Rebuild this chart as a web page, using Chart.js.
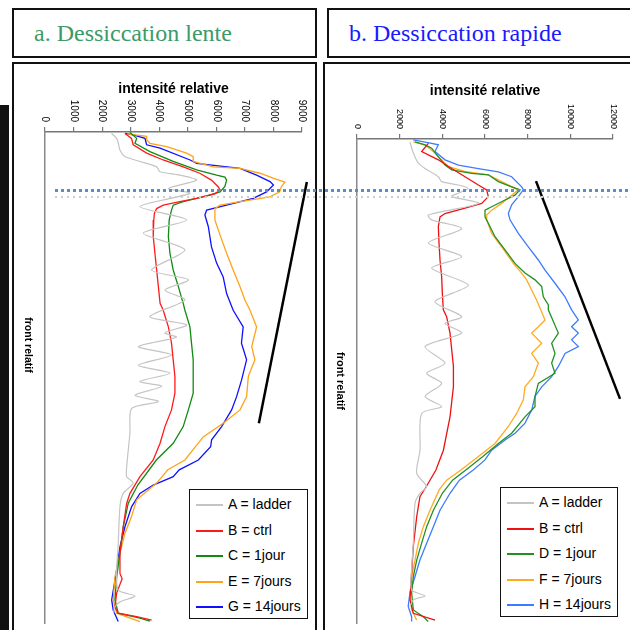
<!DOCTYPE html>
<html>
<head>
<meta charset="utf-8">
<script src="https://cdn.jsdelivr.net/npm/chart.js@4.4.0/dist/chart.umd.min.js"></script>
<style>
  body { margin: 0; width: 630px; height: 630px; overflow: hidden; background: #fff; position: relative; font-family: Arial, 'Liberation Sans', sans-serif; }
  .abs { position: absolute; }
  .box { position: absolute; border: 2px solid #111; box-sizing: border-box; background: #fff; }
  .title { font-family: 'Liberation Serif', 'Times New Roman', serif; font-size: 24px; line-height: 46px; white-space: nowrap; }
  .legend { position: absolute; border: 1.5px solid #111; background: #fff; box-sizing: border-box; z-index: 3; }
  .legend div { position: absolute; left: 0; font-size: 14px; white-space: nowrap; height: 20px; line-height: 20px; }
  .legend span { display: inline-block; width: 27px; height: 2px; vertical-align: middle; margin: 0 5px 0 6px; }
  .dots { position: absolute; z-index: 4; }
</style>
</head>
<body>
<div class="abs" style="left:0;top:105px;width:9px;height:525px;background:#111"></div>

<div class="box title" style="left:12px;top:8px;width:305px;height:50px;padding-left:20px;color:#3c9a66">a. Dessiccation lente</div>
<div class="box title" style="left:327px;top:8px;width:305px;height:50px;padding-left:20px;color:#1a1aff">b. Dessiccation rapide</div>

<div class="box" style="left:12px;top:62px;width:305px;height:590px"></div>
<div class="box" style="left:323px;top:62px;width:310px;height:590px"></div>

<div class="abs" style="left:14px;top:64px;width:300px;height:566px"><canvas id="lente"></canvas></div>
<div class="abs" style="left:325px;top:64px;width:303px;height:566px"><canvas id="rapide"></canvas></div>

<div id="legendLente" class="legend" style="left:189px;top:489px;width:119px;height:130px"></div>
<div id="legendRapide" class="legend" style="left:500px;top:487px;width:118px;height:130px"></div>

<div class="dots" style="left:55px;top:189px;width:575px;height:3px;background-image:linear-gradient(90deg,#5b8bc9 3px,transparent 3px);background-size:6px 3px"></div>
<div class="dots" style="left:55px;top:196px;width:575px;height:2px;background-image:linear-gradient(90deg,#cfcfcf 2px,transparent 2px);background-size:6px 2px"></div>

<script>
// ---- a. Dessiccation lente ----
const ticksLente = [0, 1000, 2000, 3000, 4000, 5000, 6000, 7000, 8000, 9000];
const labelsLente = ['A = ladder', 'B = ctrl', 'C = 1jour', 'E = 7jours', 'G = 14jours'];

const lenteLadderFront = [0.3, 1.3, 2.3, 3.7, 5.0, 6.0, 7.1, 8.1, 8.8, 9.8, 11.5, 12.5, 15.2, 17.9, 20.6, 24.0, 28.1, 30.1, 32.2, 34.2, 37.6, 39.3, 40.9, 41.8, 43.7, 45.4, 47.5, 49.1, 50.8, 51.8, 53.6, 54.9, 56.3, 61.3, 68.2, 70.2, 71.5, 73.6, 76.3, 83.8, 89.2, 93.3, 94.5, 95.7, 96.7, 98.0];
const lenteLadder = [2330, 2510, 2570, 2625, 2800, 3325, 3910, 4025, 4725, 5310, 4320, 5075, 3325, 4960, 3440, 4900, 3735, 5020, 4200, 4900, 3675, 4960, 4200, 4600, 3270, 4430, 3270, 4375, 3325, 4085, 3150, 3970, 3035, 2975, 2860, 2860, 3090, 2740, 2625, 2565, 2510, 2565, 3150, 2625, 2450, 2400];

const lenteCtrlFront = [0.3, 1.3, 2.6, 4.3, 5.7, 7.1, 8.4, 9.8, 11.2, 11.8, 12.6, 13.5, 14.2, 14.9, 15.6, 16.6, 17.9, 21.3, 24.7, 28.1, 31.5, 34.9, 36.3, 39.7, 43.0, 46.4, 49.8, 53.2, 56.6, 60.0, 63.4, 66.8, 70.2, 73.6, 75.6, 80.4, 85.8, 89.9, 91.0, 93.9, 96.7, 98.0, 98.7, 99.4];
const lenteCtrl = [2800, 3030, 3090, 3560, 4140, 4840, 5420, 5830, 6070, 6130, 5950, 5310, 4720, 4140, 3910, 3830, 3810, 3790, 3850, 3910, 3970, 4030, 4140, 4320, 4430, 4490, 4550, 4550, 4430, 4200, 4030, 3790, 3325, 2975, 2860, 2740, 2625, 2625, 2700, 2510, 2450, 2560, 3210, 3735];

const lenteJ1Front = [0.1, 1.3, 2.3, 4.0, 6.0, 7.7, 8.8, 9.2, 9.8, 11.1, 12.2, 13.0, 14.2, 14.9, 15.9, 17.9, 21.3, 24.7, 28.1, 31.5, 34.9, 36.3, 39.7, 43.0, 46.4, 49.8, 53.2, 56.6, 60.0, 63.4, 66.8, 71.9, 75.6, 80.4, 85.8, 90.6, 95.3, 98.0, 99.0, 99.6];
const lenteJ1 = [2975, 3210, 3150, 3675, 4490, 5310, 6010, 6300, 6360, 6300, 6130, 5660, 4840, 4490, 4430, 4350, 4320, 4375, 4490, 4670, 4840, 4900, 5075, 5130, 5190, 5190, 5190, 5020, 4840, 4490, 3900, 3250, 2915, 2740, 2625, 2510, 2450, 2565, 3325, 3675];

const lenteJ7Front = [0.4, 0.9, 1.6, 2.3, 3.0, 4.3, 5.0, 6.0, 7.1, 7.4, 8.4, 9.4, 10.2, 11.1, 12.2, 13.2, 14.2, 14.9, 15.6, 17.9, 21.0, 24.7, 28.1, 31.5, 34.2, 36.3, 39.7, 43.7, 46.4, 49.8, 53.9, 56.6, 59.3, 62.1, 66.8, 68.8, 71.5, 74.9, 78.3, 81.7, 85.8, 90.6, 95.3, 98.0, 99.7];
const lenteJ7 = [2880, 3560, 3560, 3675, 4260, 4960, 5190, 5190, 5890, 6830, 7530, 7990, 8400, 8280, 8220, 7880, 6830, 6130, 5950, 5950, 6130, 6360, 6590, 6830, 7000, 7180, 7410, 7240, 7350, 7120, 7060, 6830, 6240, 5540, 4900, 4300, 3910, 3210, 3030, 2800, 2625, 2450, 2390, 2510, 3325];

const lenteJ14Front = [0.3, 0.6, 1.3, 2.6, 3.3, 5.7, 6.4, 7.4, 8.8, 10.1, 10.8, 12.2, 13.5, 14.9, 15.9, 16.9, 19.3, 23.4, 26.7, 29.5, 32.9, 36.3, 39.7, 43.0, 46.4, 50.6, 53.9, 56.6, 60.0, 62.7, 64.1, 66.8, 68.8, 70.2, 71.9, 73.6, 76.3, 80.4, 84.5, 89.2, 95.3, 97.4, 99.7];
const lenteJ14 = [2800, 3090, 3500, 3560, 4030, 5080, 5310, 6830, 7410, 7880, 8000, 7760, 7290, 6360, 5660, 5600, 5720, 5830, 6010, 6240, 6360, 6590, 6940, 6880, 7060, 6880, 6710, 6535, 6185, 5835, 5800, 5370, 4700, 4490, 3790, 3325, 3035, 2800, 2625, 2510, 2335, 2390, 2565];

const lenteTrend = [[9170, 10.2], [7490, 59.3]];

// ---- b. Dessiccation rapide ----
const ticksRapide = [0, 2000, 4000, 6000, 8000, 10000, 12000];
const labelsRapide = ['A = ladder', 'B = ctrl', 'D = 1jour', 'F = 7jours', 'H = 14jours'];

const rapideLadderFront = [0.6, 1.9, 3.7, 5.0, 6.1, 7.8, 8.8, 9.5, 10.2, 11.2, 11.9, 13.3, 15.7, 16.7, 18.5, 21.5, 24.3, 26.7, 30.2, 33.6, 36.7, 38.1, 40.1, 42.9, 46.3, 48.4, 50.5, 53.2, 55.3, 56.7, 64.3, 69.1, 71.8, 73.2, 75.2, 83.5, 89.0, 93.2, 94.4, 95.2, 96.6];
const rapideLadder = [2484, 2563, 2719, 2875, 3188, 3813, 3969, 4750, 5219, 4750, 4438, 5700, 3344, 3500, 4906, 3344, 4906, 3500, 5219, 3656, 4906, 4125, 4906, 3188, 4125, 3266, 3969, 3188, 3969, 3031, 2953, 2797, 3265, 2950, 2720, 2640, 2560, 2560, 3190, 2640, 2480];

const rapideCtrlFront = [0.9, 2.6, 4.3, 6.1, 7.8, 9.5, 10.5, 11.9, 13.3, 14.3, 15.4, 16.1, 18.1, 21.5, 25.0, 28.5, 31.9, 35.3, 36.7, 40.1, 47.0, 51.2, 57.4, 64.3, 68.4, 71.8, 73.9, 78.0, 84.2, 89.7, 95.2, 98.0, 99.4];
const rapideCtrl = [3344, 3031, 3813, 4438, 5063, 5688, 6078, 6156, 5844, 5063, 4125, 3891, 3813, 3844, 3891, 3969, 4000, 4047, 4200, 4360, 4520, 4520, 4360, 4050, 3700, 3250, 2950, 2800, 2640, 2560, 2480, 2640, 3660];

const rapideJ1Front = [0.6, 1.2, 1.9, 3.7, 5.4, 6.4, 7.1, 7.4, 8.8, 9.9, 10.5, 11.6, 12.6, 14.0, 14.7, 16.1, 17.4, 20.2, 22.9, 25.7, 27.7, 29.1, 30.5, 32.6, 34.3, 35.3, 40.1, 42.2, 44.3, 46.3, 48.4, 50.5, 53.2, 55.3, 57.4, 60.8, 62.9, 65.6, 68.4, 70.5, 73.2, 76.7, 80.1, 83.5, 87.0, 90.4, 93.8, 97.3, 98.7, 99.7];
const rapideJ1 = [2719, 3188, 3500, 3813, 4125, 4438, 5375, 6156, 6625, 7250, 7641, 7406, 6938, 6313, 6000, 6000, 6156, 6469, 6938, 7406, 7875, 8344, 8656, 8734, 8969, 8969, 9438, 9125, 9281, 9125, 9281, 8500, 8344, 8344, 7875, 7250, 6625, 5900, 5100, 4480, 4000, 3580, 3265, 3030, 2800, 2640, 2560, 2640, 3110, 3340];

const rapideJ7Front = [0.6, 1.2, 2.9, 5.7, 6.7, 7.4, 8.8, 10.2, 10.5, 11.6, 13.3, 14.7, 15.7, 16.7, 19.5, 22.3, 25.7, 27.7, 29.1, 31.2, 33.3, 37.4, 38.8, 40.1, 42.2, 44.3, 46.3, 49.1, 51.2, 53.9, 56.7, 59.4, 62.9, 65.6, 68.4, 70.5, 72.5, 76.7, 80.1, 83.5, 87.0, 90.4, 94.6, 97.3, 99.4];
const rapideJ7 = [2641, 3188, 3656, 4281, 5063, 6156, 6781, 7406, 7563, 7250, 6781, 6313, 6078, 6078, 6313, 6781, 7328, 7719, 7953, 8188, 8422, 8813, 8500, 8188, 8656, 8188, 8500, 8266, 7875, 7797, 7484, 7094, 6469, 5690, 4870, 4203, 3850, 3422, 3109, 2875, 2719, 2563, 2484, 2563, 2797];

const rapideJ14Front = [0.2, 0.9, 1.2, 2.6, 4.3, 5.4, 6.1, 6.8, 7.8, 9.9, 10.5, 11.9, 13.6, 15.4, 16.7, 19.5, 22.3, 25.0, 27.1, 29.8, 32.6, 35.3, 37.4, 38.8, 40.1, 41.5, 42.9, 44.3, 45.7, 47.0, 49.1, 51.2, 53.2, 56.0, 58.7, 60.8, 62.2, 64.3, 66.3, 68.4, 70.5, 73.2, 76.7, 80.1, 83.5, 87.0, 90.4, 93.8, 96.6, 98.7, 99.7];
const rapideJ14 = [2641, 3500, 3813, 3656, 4125, 4750, 5688, 6625, 7250, 7719, 7797, 7563, 7250, 7094, 7172, 7563, 8031, 8500, 8813, 9281, 9750, 10060, 10375, 10060, 10375, 10060, 10375, 9750, 9590, 9440, 9125, 8660, 8340, 8190, 7875, 7410, 6940, 6310, 6000, 5450, 4800, 4360, 3890, 3580, 3265, 2950, 2720, 2480, 2400, 2560, 2560];

const rapideTrend = [[8390, 8.7], [12330, 53.7]];

const colorsLente = ['#c4c4c4', '#ff1a1a', '#108a10', '#ffa31a', '#1010ff'];
const colorsRapide = ['#c4c4c4', '#ee1111', '#229022', '#ffaa22', '#3d7bff'];

function toPoints(front, values) {
  return front.map((f, i) => ({ x: values[i], y: f }));
}

// draws rotated tick labels and axis titles like the original figure
const axisText = {
  id: 'axisText',
  afterDraw(chart, args, opts) {
    const { ctx, chartArea } = chart;
    const xs = chart.scales.x;
    ctx.save();
    ctx.fillStyle = '#000';
    ctx.font = opts.tickFont;
    ctx.textBaseline = 'middle';
    ctx.textAlign = 'right';
    xs.ticks.forEach((t, i) => {
      ctx.save();
      ctx.translate(xs.getPixelForTick(i), chartArea.top - opts.tickGap);
      ctx.rotate(Math.PI / 2);
      ctx.fillText(String(t.value), 0, 0);
      ctx.restore();
    });
    ctx.font = 'bold 14px Arial';
    ctx.textAlign = 'center';
    ctx.fillText('intensité relative', (chartArea.left + chartArea.right) / 2, opts.titleY);
    ctx.save();
    ctx.translate(opts.frontX, opts.frontY);
    ctx.rotate(Math.PI / 2);
    ctx.font = opts.frontFont;
    ctx.fillText('front relatif', 0, 0);
    ctx.restore();
    ctx.restore();
  }
};

function makeChart(id, series, colors, ticks, max, trend, pad, text) {
  const datasets = series.map((s, i) => ({
    label: s.label,
    data: toPoints(s.front, s.values),
    borderColor: colors[i],
    borderWidth: i === 0 ? 1.2 : 1.3,
    tension: i === 0 ? 0.25 : 0,
    showLine: true,
    pointRadius: 0,
  }));
  datasets.push({
    label: 'trend',
    data: trend.map(p => ({ x: p[0], y: p[1] })),
    borderColor: '#000',
    borderWidth: 2.5,
    showLine: true,
    pointRadius: 0,
    clip: false,
  });

  return new Chart(document.getElementById(id), {
    type: 'scatter',
    data: { datasets },
    options: {
      responsive: true,
      maintainAspectRatio: false,
      animation: false,
      layout: { padding: pad },
      plugins: { legend: { display: false }, tooltip: { enabled: false }, axisText: text },
      scales: {
        x: {
          position: 'top',
          min: 0,
          max: max,
          afterBuildTicks: (scale) => { scale.ticks = ticks.map(v => ({ value: v })); },
          ticks: { display: false },
          grid: { drawOnChartArea: false, tickLength: 5, color: '#777', lineWidth: 1.2 },
          border: { color: '#777', width: 1.5 },
        },
        y: {
          reverse: true,
          min: 0,
          max: 100,
          ticks: { display: false },
          grid: { drawOnChartArea: false, drawTicks: false },
          border: { color: '#888', width: 1.5 },
        },
      },
    },
    plugins: [axisText],
  });
}

function buildLegend(id, labels, colors) {
  const box = document.getElementById(id);
  labels.forEach((l, i) => {
    const row = document.createElement('div');
    row.style.top = (4 + i * 25.5) + 'px';
    row.innerHTML = `<span style="background:${colors[i]}"></span>${l}`;
    box.appendChild(row);
  });
}

makeChart('lente', [
  { label: labelsLente[0], front: lenteLadderFront, values: lenteLadder },
  { label: labelsLente[1], front: lenteCtrlFront, values: lenteCtrl },
  { label: labelsLente[2], front: lenteJ1Front, values: lenteJ1 },
  { label: labelsLente[3], front: lenteJ7Front, values: lenteJ7 },
  { label: labelsLente[4], front: lenteJ14Front, values: lenteJ14 },
], colorsLente, ticksLente, 9000, lenteTrend,
  { left: 31, top: 63, right: 12, bottom: 7 },
  { tickFont: '10px Arial', tickGap: 10, titleY: 25, frontX: 14, frontY: 281, frontFont: 'bold 10.5px Arial' });

makeChart('rapide', [
  { label: labelsRapide[0], front: rapideLadderFront, values: rapideLadder },
  { label: labelsRapide[1], front: rapideCtrlFront, values: rapideCtrl },
  { label: labelsRapide[2], front: rapideJ1Front, values: rapideJ1 },
  { label: labelsRapide[3], front: rapideJ7Front, values: rapideJ7 },
  { label: labelsRapide[4], front: rapideJ14Front, values: rapideJ14 },
], colorsRapide, ticksRapide, 12000, rapideTrend,
  { left: 32, top: 70, right: 15, bottom: 7 },
  { tickFont: '9px Arial', tickGap: 10, titleY: 27, frontX: 15, frontY: 317, frontFont: 'bold 11px Arial' });

buildLegend('legendLente', labelsLente, colorsLente);
buildLegend('legendRapide', labelsRapide, colorsRapide);
</script>
</body>
</html>
